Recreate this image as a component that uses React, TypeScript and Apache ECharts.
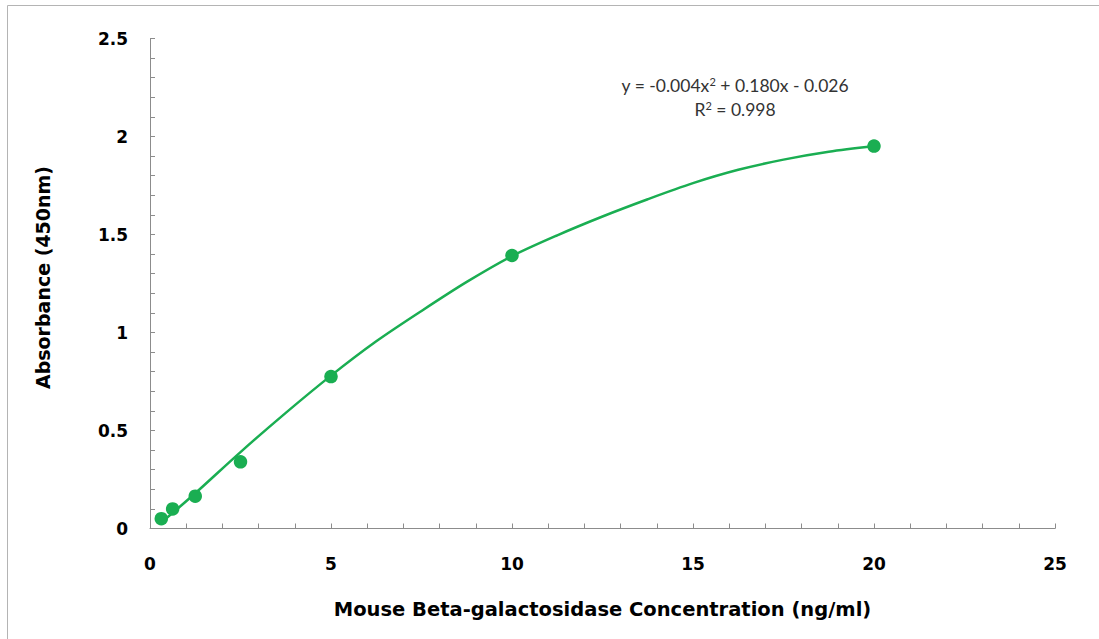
import React, { useEffect, useRef } from "react";
import * as echarts from "echarts";

const concentrations = [0.3125, 0.625, 1.25, 2.5, 5, 10, 20];
const absorbances = [0.05, 0.1, 0.165, 0.34, 0.775, 1.393, 1.951];

const curveX = [0.3125, 1.25, 2.5, 3.75, 5, 6.25, 7.5, 8.75, 10, 11.25, 12.5, 13.75, 15, 16.25, 17.5, 18.75, 20];
const curveY = [0.03, 0.18, 0.39, 0.59, 0.78, 0.955, 1.11, 1.258, 1.39, 1.496, 1.592, 1.68, 1.762, 1.83, 1.882, 1.922, 1.951];

const xTicks = [0, 5, 10, 15, 20, 25];
const yTicks = [0, 0.5, 1, 1.5, 2, 2.5];

const GREEN = "#1aae52";
const AXIS = "#8c8c8c";
const FONT = "DejaVu Sans";

export default function App() {
  const ref = useRef<HTMLDivElement>(null);
  useEffect(() => {
    if (!ref.current) return;
    const chart = echarts.init(ref.current, null, { renderer: "svg" });
    const eqRich = {
      a: { fontFamily: "Lato", fontSize: 17.5, fill: "#333" },
      s: { fontFamily: "Lato", fontSize: 11, fill: "#333", verticalAlign: "top", padding: [0, 0, 7, 0] },
    };
    chart.setOption({
      animation: false,
      backgroundColor: "#ffffff",
      grid: { left: 150, right: 44, top: 38.5, bottom: 110.5 },
      xAxis: {
        type: "value",
        min: xTicks[0],
        max: xTicks[xTicks.length - 1],
        interval: 5,
        name: "Mouse Beta-galactosidase Concentration (ng/ml)",
        nameLocation: "middle",
        nameGap: 71,
        nameTextStyle: { fontFamily: FONT, fontWeight: "bold", fontSize: 19.5, color: "#000" },
        axisLine: { show: true, onZero: false, lineStyle: { color: AXIS, width: 1 } },
        axisTick: { show: true, inside: true, length: 5, lineStyle: { color: AXIS } },
        minorTick: { show: true, splitNumber: 5, length: 5, lineStyle: { color: AXIS } },
        splitLine: { show: false },
        axisLabel: { margin: 27, fontFamily: FONT, fontWeight: "bold", fontSize: 17, color: "#000" },
      },
      yAxis: {
        type: "value",
        min: yTicks[0],
        max: yTicks[yTicks.length - 1],
        interval: 0.5,
        name: "Absorbance (450nm)",
        nameLocation: "middle",
        nameGap: 98,
        nameTextStyle: { fontFamily: FONT, fontWeight: "bold", fontSize: 19, color: "#000", padding: [0, 0, 0, 12] },
        axisLine: { show: true, lineStyle: { color: AXIS, width: 1 } },
        axisTick: { show: true, inside: true, length: 5, lineStyle: { color: AXIS } },
        minorTick: { show: true, splitNumber: 5, length: 5, lineStyle: { color: AXIS } },
        splitLine: { show: false },
        axisLabel: { margin: 22, fontFamily: FONT, fontWeight: "bold", fontSize: 17, color: "#000" },
      },
      graphic: [
        {
          type: "rect",
          shape: { x: 7.5, y: 5.5, width: 1200, height: 800 },
          style: { fill: "none", stroke: "#b4b4b4", lineWidth: 1 },
          silent: true,
        },
        {
          type: "text",
          x: 735,
          y: 85,
          style: {
            text: "{a|y = -0.004x}{s|2}{a| + 0.180x - 0.026}",
            align: "center",
            verticalAlign: "middle",
            rich: eqRich,
          },
        },
        {
          type: "text",
          x: 735,
          y: 109,
          style: {
            text: "{a|R}{s|2}{a| = 0.998}",
            align: "center",
            verticalAlign: "middle",
            rich: eqRich,
          },
        },
      ],
      series: [
        {
          name: "Trendline",
          type: "line",
          data: curveX.map((x, i) => [x, curveY[i]]),
          smooth: 0.3,
          showSymbol: false,
          symbol: "none",
          lineStyle: { color: GREEN, width: 2.5 },
          z: 2,
        },
        {
          name: "Standard",
          type: "scatter",
          data: concentrations.map((x, i) => [x, absorbances[i]]),
          symbol: "circle",
          symbolSize: 13.5,
          itemStyle: { color: GREEN, opacity: 1 },
          z: 3,
        },
      ],
    });
    return () => chart.dispose();
  }, []);
  return (
    <div
      ref={ref}
      style={{ position: "fixed", left: 0, top: 0, width: 1099, height: 639, background: "#fff" }}
    />
  );
}
